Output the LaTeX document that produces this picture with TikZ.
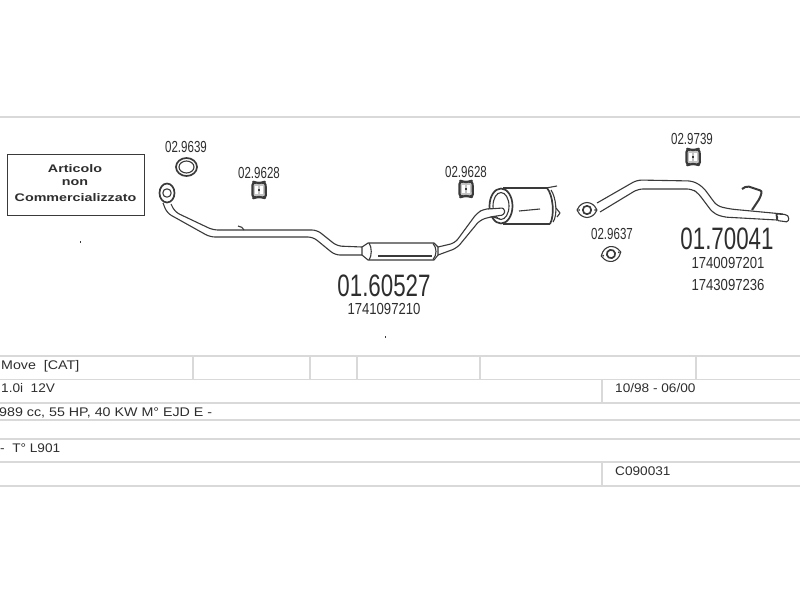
\documentclass[tikz,border=0pt]{standalone}
\usepackage{fontspec}
\setmainfont{Liberation Sans}
\newfontfamily\narrowf[FakeStretch=0.72]{Liberation Sans}
\newfontfamily\numf[FakeStretch=0.82]{Liberation Sans}
\newfontfamily\boxf[FakeStretch=1.3]{Liberation Sans}
\newfontfamily\rowf[FakeStretch=1.09]{Liberation Sans}
\newfontfamily\rowwf[FakeStretch=1.14]{Liberation Sans}
\definecolor{rule}{HTML}{D9D9D9}
\definecolor{ink}{HTML}{3A3A3A}
\definecolor{txt}{HTML}{2E2E2E}
\tikzset{
  tline/.style={draw=rule,line width=2pt},
  tthin/.style={draw=rule,line width=1.4pt},
  pipe/.style={draw=ink,line width=1.1pt,line join=round,rounded corners=5pt},
  part/.style={draw=ink,line width=1.1pt,line join=round},
  heavy/.style={draw=ink,line width=1.7pt,line join=round},
  code/.style={font=\narrowf\fontsize{16}{16}\selectfont,text=txt,inner sep=0pt},
  num/.style={font=\numf\fontsize{16}{16}\selectfont,text=txt,inner sep=0pt},
  big/.style={font=\narrowf\fontsize{31}{31}\selectfont,text=txt,inner sep=0pt},
  row/.style={font=\rowf\fontsize{12.5}{12.5}\selectfont,text=txt,inner sep=0pt,anchor=base west},
  rowwide/.style={row,font=\rowwf\fontsize{12.5}{12.5}\selectfont},
  boxt/.style={font=\boxf\bfseries\fontsize{11}{11}\selectfont,text=txt,inner sep=0pt},
  hanger/.pic={
    \draw[draw=ink,line width=2.2pt,line join=round,fill=ink!30,rounded corners=3.5pt] (-6.5,-8.5) -- (-2.5,-7) -- (2.5,-7) -- (6.5,-8.5) -- (7,8.5) -- (2.5,7) -- (-2.5,7) -- (-6.5,8.5) -- cycle;
    \fill[white] (-3.6,-4) rectangle (-0.8,4);
    \fill[white] (0.8,-4) rectangle (3.6,4);
    \fill[ink] (-0.8,-1.2) rectangle (0.8,1.2);
  },
  flange/.pic={
    \draw[part,fill=white] (-10,0) .. controls (-7,-6) and (-4,-7) .. (0,-7.5) .. controls (4,-7) and (7,-6) .. (10,0) .. controls (7,6) and (4,7) .. (0,7.5) .. controls (-4,7) and (-7,6) .. (-10,0) -- cycle;
    \draw[heavy] (0,0) circle (4.2);
    \fill[ink] (-8,0) circle (1);
    \fill[ink] (8,0) circle (1);
  }
}
\begin{document}
\begin{tikzpicture}[x=1pt,y=-1pt]
\useasboundingbox (0,0) rectangle (800,600);
\fill[white] (0,0) rectangle (800,600);
% rules
\draw[tline] (0,117) -- (800,117);
\draw[tline] (0,356) -- (800,356);
\draw[tthin] (0,379.5) -- (800,379.5);
\draw[tline] (0,403) -- (800,403);
\draw[tline] (0,420) -- (800,420);
\draw[tthin] (0,439) -- (800,439);
\draw[tline] (0,462) -- (800,462);
\draw[tline] (0,486) -- (800,486);
\foreach \x in {193,310,357,480,696} \draw[tline] (\x,356) -- (\x,379.5);
\draw[tline] (602,379.5) -- (602,403);
\draw[tline] (602,462) -- (602,486);
% table text
\node[rowwide] (r1) at (1,369) {Move\ \ [CAT]};
\node[row] (r2) at (1,392) {1.0i\ \ 12V};
\node[rowwide] (r3) at (-1,416) {989 cc, 55 HP, 40 KW M° EJD E -};
\node[row] (r4) at (0,452) {-\ \ T° L901};
\node[row] (r5) at (615,392) {10/98 - 06/00};
\node[row] (r6) at (615,475) {C090031};
% box
\node[draw=ink,line width=1pt,minimum width=137pt,minimum height=61pt,inner sep=0pt] (nc) at (75.5,184.5) {};
\node[boxt] (b1) at (75,169) {Articolo};
\node[boxt] (b2) at (75,183) {non};
\node[boxt] (b3) at (75.5,197.5) {Commercializzato};
% specks
\fill[ink] (79.5,241) rectangle (80.5,243);
\fill[ink] (384.5,336) rectangle (385.5,338);
% labels
\node[code] (l1) at (186,147) {02.9639};
\node[code] (l2) at (259,173) {02.9628};
\node[code] (l3) at (466,172) {02.9628};
\node[code] (l4) at (692,139) {02.9739};
\node[code] (l5) at (612,234) {02.9637};
\node[big] (n1) at (384,286) {01.60527};
\node[num] (m1) at (384,309) {1741097210};
\node[big] (n2) at (727,239) {01.70041};
\node[num] (m2) at (728,262.5) {1740097201};
\node[num] (m3) at (728,285) {1743097236};
% gasket
\draw[heavy] (186.5,167) ellipse (10.5 and 9);
\draw[part] (186.5,167) ellipse (7.5 and 6);
% hangers
\pic at (259,190) {hanger};
\pic at (466,189) {hanger};
\pic at (693,157) {hanger};
% first pipe
\draw[pipe] (171,204) -- (175,212) -- (213,230) -- (317,230) -- (337,246) -- (362,247);
\draw[pipe] (163,203) -- (167,213) -- (210,237) -- (313,237) -- (335,255) -- (362,255);
\draw[part] (238,226) .. controls (241,226) and (243,228) .. (244,230);
\draw[heavy,fill=white] (167,193) ellipse (7.5 and 9.5);
\draw[part] (167,193) circle (4.2);
% middle muffler
\draw[part,fill=white] (362,247) -- (368,243) -- (434,243) -- (438,247) -- (438,255) -- (434,260) -- (368,260) -- (362,255) -- cycle;
\draw[part] (369,243) .. controls (372,247) and (372,256) .. (369,260);
\draw[part] (433,243.5) .. controls (437,248) and (437,255) .. (433,259.5);
\draw[part] (378,256) -- (432,256);
% second section pipe
\draw[pipe] (438,247) -- (455,243) -- (477,213) -- (484,209) -- (503,208);
\draw[pipe] (438,255) -- (457,248) -- (480,220) -- (490,217) -- (503,215);
% rear silencer
\draw[part] (503,188) -- (547,188);
\draw[part] (503,224) -- (550,224);
\draw[part] (546,188) -- (557,186);
\draw[part] (519,211) -- (540,209);
\draw[heavy] (547,188) .. controls (553,195) and (555,215) .. (550,224);
\draw[part] (551,190) .. controls (556,197) and (558,215) .. (553,222);
\draw[part] (556,208) -- (560,213) -- (557,217);
\draw[heavy] (501,206) ellipse (11.5 and 17.5);
\draw[part,fill=white] (501,206) ellipse (8 and 13.5);
\draw[pipe,fill=white,rounded corners=1pt] (488,209) -- (503,208) -- (505,211.5) -- (503,215) -- (490,217);
\draw[part] (493,217) -- (500,219);
% rear pipe
\draw[pipe] (597,203) -- (637,180) -- (693,181) -- (703,187) -- (717,206) -- (730,209) -- (783,214);
\draw[pipe] (600,212) -- (638,189) -- (692,189) -- (698,193) -- (713,213) -- (723,217) -- (777,220);
\draw[part,fill=white,rounded corners=1.5pt] (776,214) -- (786,214.5) -- (789,217) -- (788,222) -- (777,220.5) -- cycle;
\draw[part] (776,214) .. controls (778,216) and (778,218) .. (777,220.5);
\draw[draw=ink,line width=2pt,rounded corners=2pt] (742,189) -- (747,186) -- (762,191) -- (760,198) -- (752,210);
\pic at (587,210) {flange};
\pic[rotate=12] at (611,254) {flange};
\end{tikzpicture}
\end{document}
